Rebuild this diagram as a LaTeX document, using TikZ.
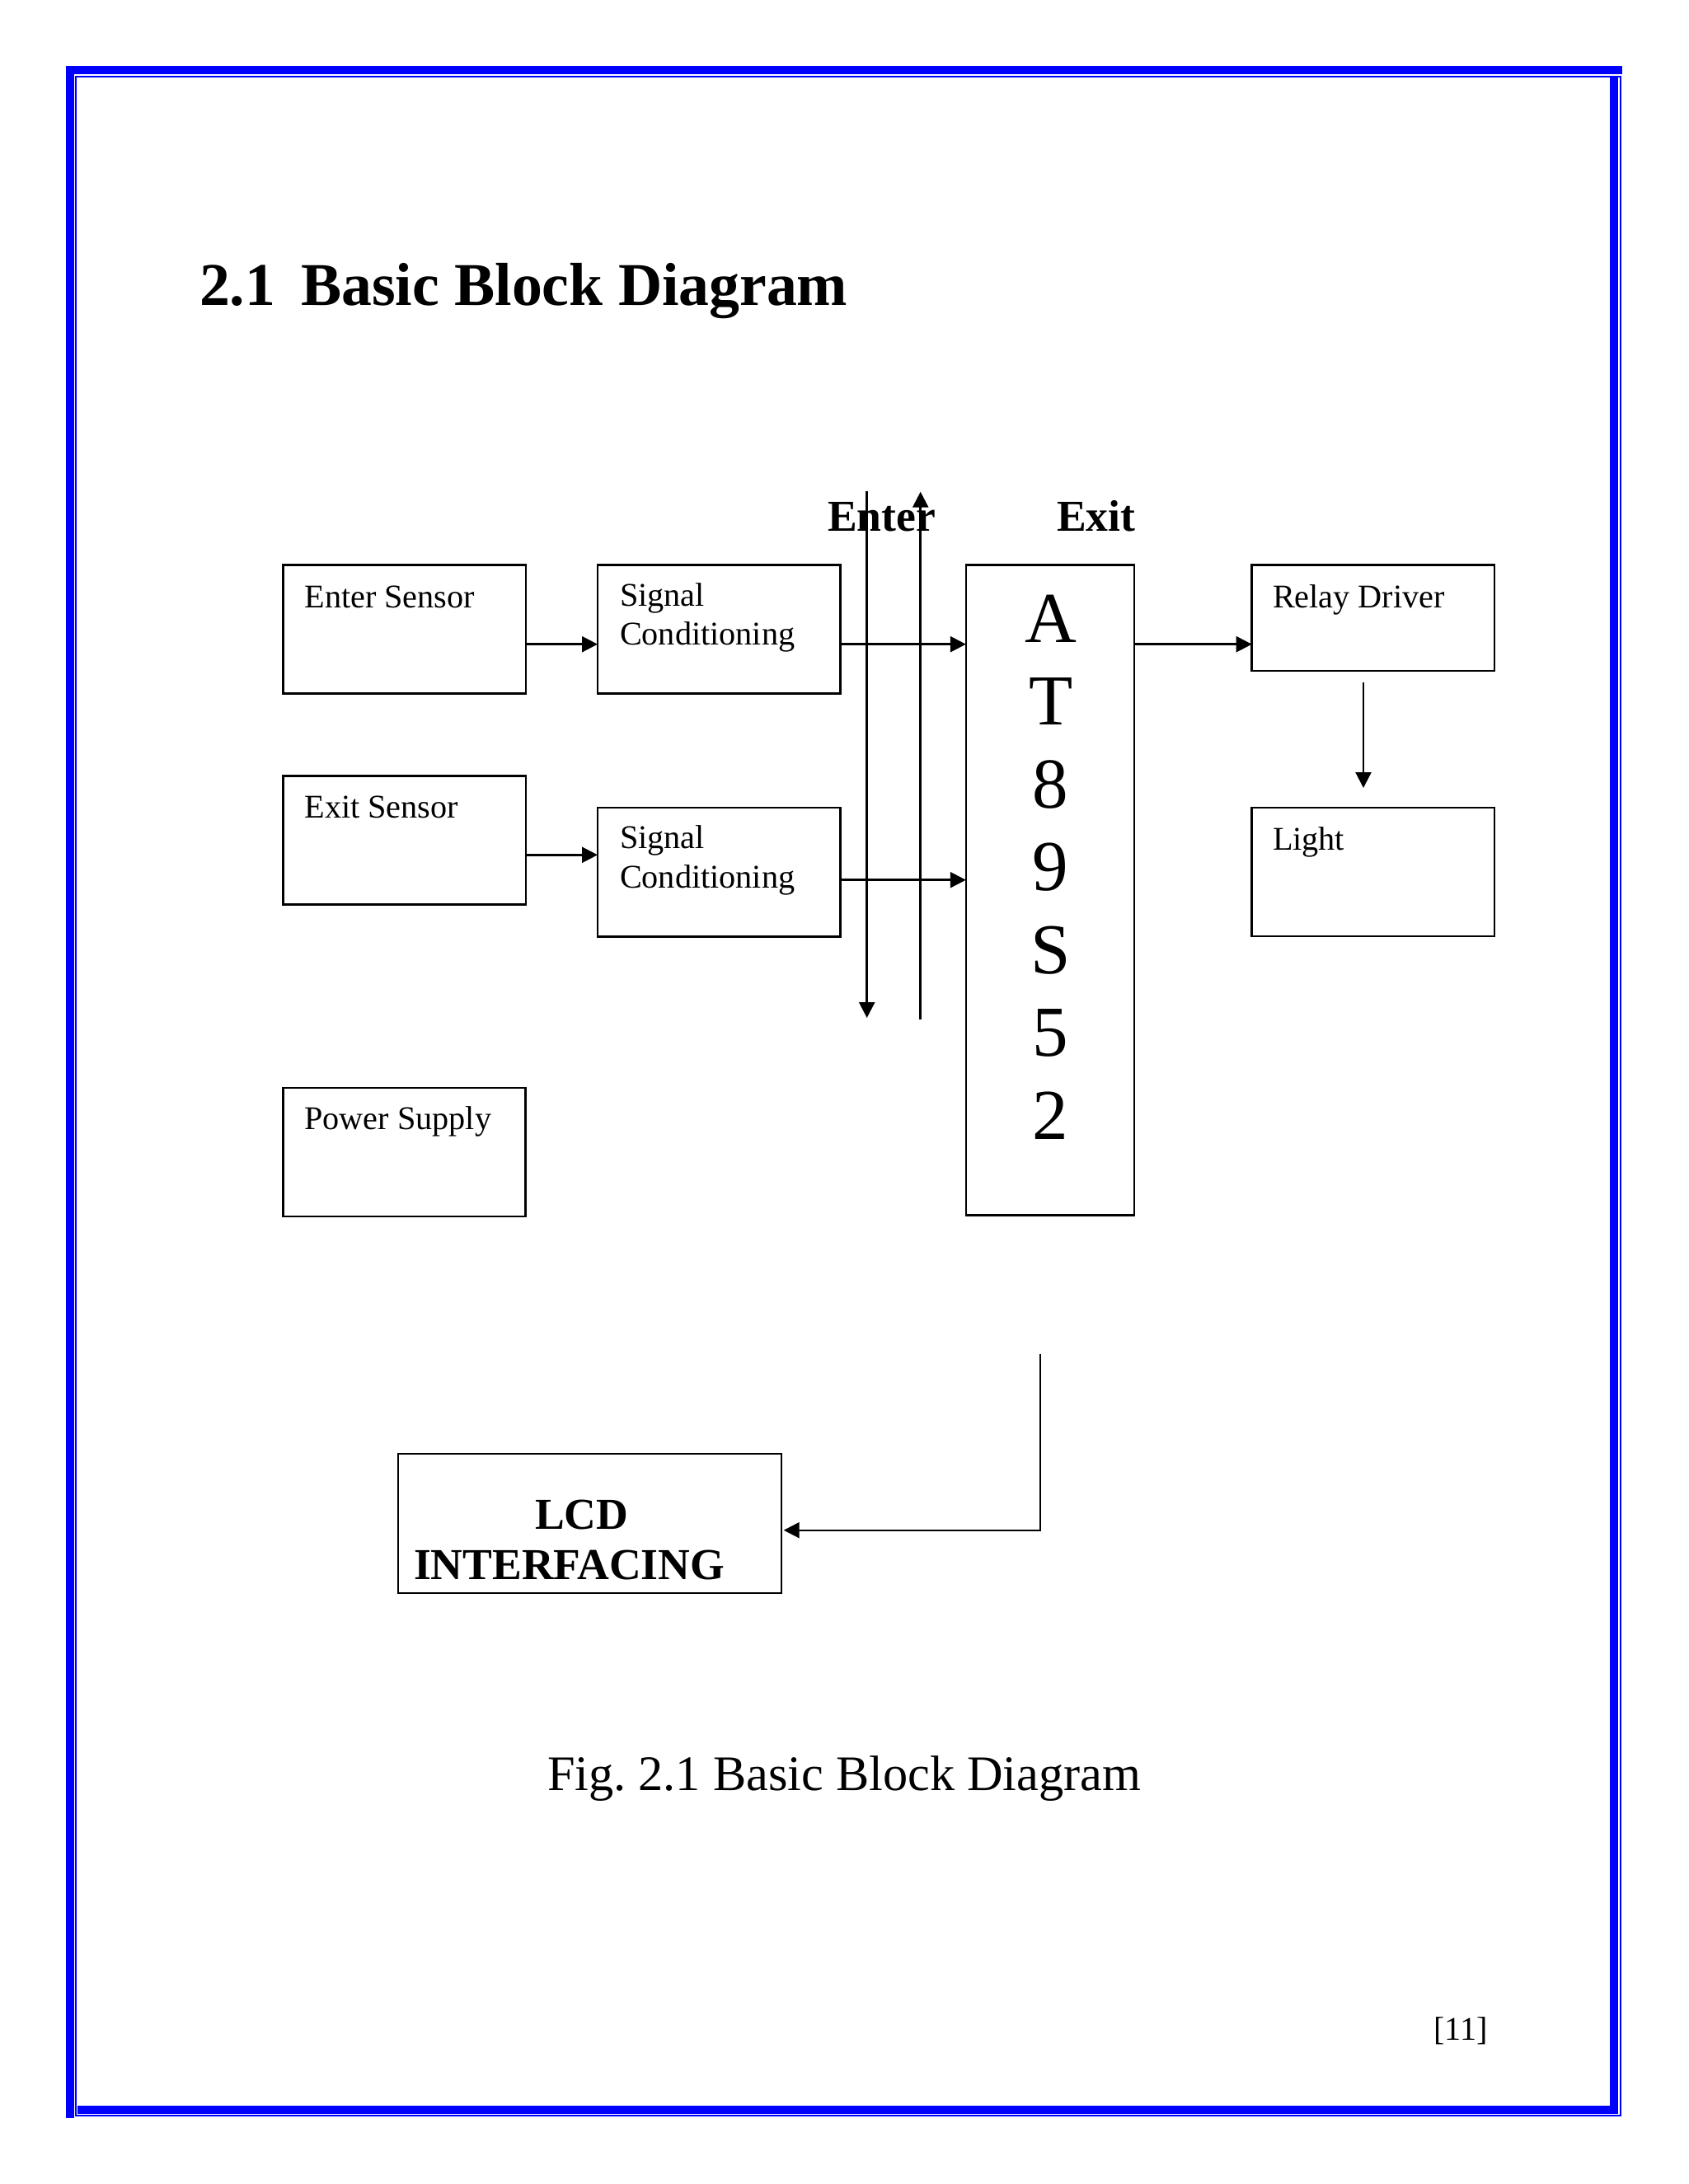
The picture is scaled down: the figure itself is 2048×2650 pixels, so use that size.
\documentclass[tikz,border=0pt]{standalone}
\usepackage{fontspec}
\setmainfont{Liberation Serif}
\usetikzlibrary{arrows.meta,calc}
\frenchspacing
\newcommand\myBody{\fontsize{40.2}{46}\selectfont}
\newcommand\myTitle{\fontsize{73.7}{85}\selectfont\bfseries}
\newcommand\myLbl{\fontsize{53.6}{62}\selectfont\bfseries}
\newcommand\myChip{\fontsize{87}{100}\selectfont}
\newcommand\myCap{\fontsize{60.3}{70}\selectfont}
\begin{document}
\begin{tikzpicture}[x=1pt,y=-1pt,
  box/.style={draw, line width=2.5pt, inner sep=0pt, outer sep=0pt},
  txt/.style={inner sep=0pt, outer sep=0pt, anchor=base west, font=\myBody},
  chip/.style={inner sep=0pt, outer sep=0pt, anchor=base, font=\myChip},
  arr/.style={line width=2.5pt, -{Triangle[length=19pt,width=19pt]}},
  thinarr/.style={line width=2.2pt, -{Triangle[length=19pt,width=19pt]}}]
\useasboundingbox (0,0) rectangle (2048,2650);
\fill[white] (0,0) rectangle (2048,2650);
% page border
\fill[blue] (80,80) rectangle (1968,90);
\fill[blue] (80,80) rectangle (90,2570);
\draw[blue,line width=2pt] (92.3,92.5) rectangle (1966,2567.2);
\fill[blue] (1953,93.5) rectangle (1963,2565);
\fill[blue] (93.5,2555) rectangle (1963,2565);
% title
\node[txt, font=\myTitle] (title) at (242,370) {2.1\hspace{31pt}Basic Block Diagram};
% labels
\node[txt, font=\myLbl] (lenter) at (1004,644) {Enter};
\node[txt, font=\myLbl] (lexit) at (1282,644) {Exit};
% boxes
\node[box, minimum width=294.4pt, minimum height=156pt] (es) at (490.6,763.7) {};
\node[box, minimum width=294.4pt, minimum height=156pt] (sc1) at (872.2,763.7) {};
\node[box, minimum width=294.4pt, minimum height=156pt] (ex) at (490.6,1019.7) {};
\node[box, minimum width=294.4pt, minimum height=156.7pt] (sc2) at (872.2,1058.3) {};
\node[box, minimum width=294.4pt, minimum height=156pt] (ps) at (490.5,1398) {};
\node[box, minimum width=204pt, minimum height=788.6pt] (mcu) at (1273.8,1080) {};
\node[box, minimum width=294.2pt, minimum height=128.3pt] (rd) at (1665.8,749.85) {};
\node[box, minimum width=294.2pt, minimum height=156pt] (light) at (1665.8,1058) {};
\node[box, line width=2pt, minimum width=464.4pt, minimum height=168.7pt] (lcd) at (715.5,1848.3) {};
% box texts
\node[txt] (tes) at (369.5,737.3) {Enter Sensor};
\node[txt] (tsc1a) at (752,735) {Signal};
\node[txt] (tsc1b) at (752,782.7) {Conditioning};
\node[txt] (tex) at (369.5,992.7) {Exit Sensor};
\node[txt] (tsc2a) at (752,1029) {Signal};
\node[txt] (tsc2b) at (752,1077) {Conditioning};
\node[txt] (tps) at (369.5,1370.7) {Power Supply};
\node[txt] (trd) at (1544,737) {Relay Driver};
\node[txt] (tlight) at (1544,1031) {Light};
\node[txt, font=\myLbl] (tlcd1) at (649,1855) {LCD};
\node[txt, font=\myLbl] (tlcd2) at (502,1916.7) {INTERFACING};
% chip letters
\node[chip] (c1) at (1274.6,779.3) {A};
\node[chip] (c2) at (1274.6,879.3) {T};
\node[chip] (c3) at (1274.6,980) {8};
\node[chip] (c4) at (1274.6,1080.5) {9};
\node[chip] (c5) at (1274.6,1181) {S};
\node[chip] (c6) at (1274.6,1281.5) {5};
\node[chip] (c7) at (1274.6,1382) {2};
% connectors
\draw[arr] ($(es.east)+(0,18)$) -- ($(sc1.west)+(0,18)$);
\draw[arr] ($(ex.east)+(0,17.6)$) -- ($(sc2.west)+(0,-21)$);
\draw[arr] ($(sc1.east)+(0,18)$) coordinate (p1) -- (mcu.west |- p1);
\draw[arr] ($(sc2.east)+(0,9.4)$) coordinate (p2) -- (mcu.west |- p2);
\draw[arr] ($(mcu.east)+(0,-298.3)$) coordinate (p3) -- (rd.west |- p3);
\draw[thinarr, shorten <=14.3pt, shorten >=24pt] ($(rd.south)+(-11.8,0)$) -- ($(light.north)+(-11.8,0)$);
% bus lines
\coordinate (busdtop) at (1051.7,595.7);
\coordinate (busdbot) at (1051.7,1235);
\coordinate (busubot) at (1116.7,1236.7);
\coordinate (busutop) at (1116.7,596.7);
\draw[arr] (busdtop) -- (busdbot);
\draw[arr] (busubot) -- (busutop);
% to LCD
\coordinate (lcdsrc) at (1262.3,1642.7);
\draw[thinarr, shorten >=3pt] (lcdsrc) |- ($(lcd.east)+(0,8.4)$);
% caption and page number
\node[txt, font=\myCap] (cap) at (664,2172.5) {Fig. 2.1 Basic Block Diagram};
\node[txt] (pg) at (1739,2475) {[11]};
\end{tikzpicture}
\end{document}
